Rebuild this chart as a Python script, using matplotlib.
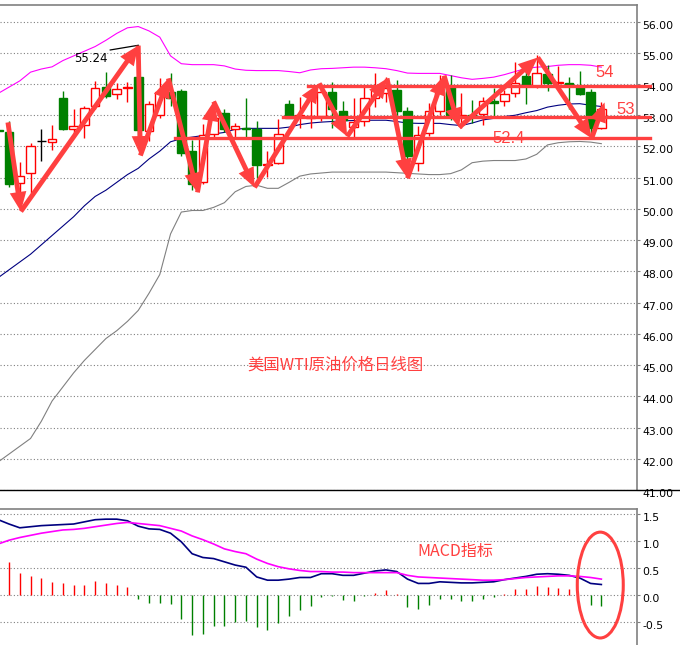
import matplotlib
matplotlib.use('Agg')
import matplotlib.pyplot as plt
from matplotlib.patches import Rectangle, FancyArrowPatch, Ellipse
from matplotlib.lines import Line2D
from matplotlib.transforms import ScaledTranslation

# daily candles, index -1 is the one cut off at the left edge
opens = [52.52, 52.46, 50.83, 51.15, 52.16, 52.15, 53.56, 52.57, 52.70, 53.31, 53.92,
         53.69, 53.87, 54.21, 52.49, 53.00, 53.75, 53.79, 51.85, 50.86, 52.40,
         53.06, 52.55, 52.60, 52.55, 51.40, 51.47, 53.35, 52.93, 52.90, 52.97,
         53.73, 53.15, 52.62, 52.81, 53.55, 53.71, 53.82, 53.15, 51.47, 52.43,
         53.15, 53.90, 52.93, 53.02, 53.05, 53.47, 53.47, 53.72, 54.27, 53.95,
         54.33, 54.03, 54.02, 53.90, 53.75, 52.60]
highs = [52.60, 52.83, 51.50, 52.11, 52.55, 52.70, 53.79, 53.20, 53.31, 54.11, 54.38,
         54.03, 54.06, 55.24, 53.45, 54.20, 54.35, 53.85, 52.20, 52.73, 53.47,
         53.20, 52.74, 53.54, 52.81, 51.87, 52.89, 53.50, 53.57, 53.74, 54.03,
         54.08, 53.47, 53.55, 53.90, 54.35, 54.22, 54.14, 53.26, 52.67, 53.40,
         54.30, 54.30, 53.70, 53.50, 53.58, 53.86, 53.82, 54.70, 54.38, 54.94,
         54.60, 54.58, 54.22, 54.43, 53.85, 53.42]
lows = [52.40, 50.70, 50.20, 50.50, 51.53, 51.90, 52.52, 52.30, 52.28, 53.20, 53.55,
        53.51, 53.42, 52.00, 52.17, 52.90, 53.30, 51.70, 50.60, 50.80, 52.30,
        52.45, 52.26, 52.26, 50.98, 51.02, 51.45, 52.90, 52.60, 52.60, 52.81,
        52.60, 52.83, 52.28, 52.67, 53.26, 53.42, 53.00, 51.10, 51.23, 52.35,
        53.00, 52.85, 52.60, 52.74, 52.70, 52.96, 53.30, 53.60, 53.37, 53.88,
        53.77, 53.95, 53.21, 53.65, 52.35, 52.55]
closes = [52.48, 50.79, 51.07, 52.03, 52.16, 52.25, 52.55, 52.66, 53.22, 53.88, 53.63,
          53.84, 53.89, 52.52, 53.35, 53.76, 53.55, 51.79, 50.81, 52.38, 52.90,
          52.55, 52.64, 52.56, 51.40, 51.45, 52.41, 52.92, 53.00, 52.96, 53.73,
          53.20, 52.86, 52.78, 53.56, 53.85, 53.88, 53.13, 51.71, 52.38, 53.15,
          53.74, 53.00, 53.00, 52.98, 53.45, 53.39, 53.69, 54.03, 53.95, 54.36,
          54.04, 54.06, 54.00, 53.69, 52.60, 53.21]

# bollinger bands
bb_upper = [53.70, 53.90, 54.10, 54.38, 54.48, 54.55, 54.75, 54.90, 55.05, 55.20, 55.40,
            55.62, 55.80, 55.84, 55.70, 55.50, 54.90, 54.65, 54.62, 54.62, 54.62,
            54.58, 54.48, 54.44, 54.43, 54.43, 54.43, 54.40, 54.36, 54.45, 54.49,
            54.50, 54.52, 54.54, 54.54, 54.52, 54.49, 54.43, 54.35, 54.34, 54.34,
            54.34, 54.27, 54.20, 54.15, 54.18, 54.22, 54.30, 54.40, 54.50, 54.54,
            54.56, 54.60, 54.62, 54.62, 54.60, 54.54]
bb_mid = [47.80, 48.05, 48.30, 48.55, 48.85, 49.15, 49.45, 49.75, 50.10, 50.40, 50.60,
          50.85, 51.10, 51.30, 51.60, 51.85, 52.15, 52.25, 52.30, 52.35, 52.40,
          52.45, 52.55, 52.58, 52.58, 52.58, 52.58, 52.62, 52.70, 52.75, 52.78,
          52.80, 52.82, 52.83, 52.84, 52.84, 52.84, 52.80, 52.75, 52.74, 52.74,
          52.74, 52.70, 52.67, 52.75, 52.85, 52.90, 52.96, 53.00, 53.08, 53.15,
          53.26, 53.32, 53.36, 53.37, 53.32, 53.28]
bb_lower = [41.90, 42.15, 42.40, 42.65, 43.20, 43.85, 44.30, 44.75, 45.15, 45.50, 45.85,
            46.10, 46.40, 46.75, 47.30, 47.90, 49.20, 49.90, 49.95, 49.95, 50.05,
            50.20, 50.55, 50.72, 50.76, 50.66, 50.66, 50.85, 51.05, 51.12, 51.15,
            51.18, 51.18, 51.18, 51.18, 51.18, 51.18, 51.16, 51.14, 51.12, 51.10,
            51.10, 51.13, 51.25, 51.48, 51.53, 51.55, 51.55, 51.55, 51.60, 51.75,
            52.05, 52.12, 52.15, 52.16, 52.14, 52.09]

# MACD panel
macd_line = [1.40, 1.32, 1.25, 1.27, 1.29, 1.30, 1.31, 1.32, 1.36, 1.40, 1.41,
             1.41, 1.38, 1.28, 1.23, 1.22, 1.15, 0.99, 0.77, 0.70, 0.68,
             0.62, 0.56, 0.52, 0.34, 0.28, 0.28, 0.30, 0.33, 0.33, 0.40,
             0.40, 0.37, 0.37, 0.41, 0.45, 0.47, 0.44, 0.30, 0.22, 0.22,
             0.25, 0.24, 0.23, 0.23, 0.24, 0.25, 0.29, 0.32, 0.35, 0.39,
             0.40, 0.39, 0.37, 0.32, 0.22, 0.20]
signal_line = [0.95, 1.02, 1.07, 1.11, 1.15, 1.18, 1.21, 1.22, 1.24, 1.27, 1.30,
               1.33, 1.35, 1.33, 1.31, 1.29, 1.24, 1.19, 1.10, 1.03, 0.95,
               0.86, 0.81, 0.77, 0.67, 0.59, 0.53, 0.49, 0.46, 0.44, 0.44,
               0.43, 0.43, 0.42, 0.42, 0.42, 0.42, 0.42, 0.37, 0.34, 0.33,
               0.32, 0.31, 0.30, 0.29, 0.28, 0.28, 0.29, 0.31, 0.33, 0.34,
               0.35, 0.36, 0.36, 0.35, 0.33, 0.30]
# histogram starts at index 0
macd_hist = [0.62, 0.41, 0.35, 0.32, 0.25, 0.23, 0.19, 0.20, 0.27, 0.23,
             0.20, 0.15, -0.07, -0.14, -0.14, -0.17, -0.44, -0.74, -0.71, -0.57,
             -0.56, -0.49, -0.48, -0.59, -0.65, -0.52, -0.39, -0.28, -0.19, -0.03,
             -0.02, -0.09, -0.10, -0.02, 0.04, 0.10, 0.02, -0.21, -0.26, -0.18,
             -0.06, -0.07, -0.10, -0.10, -0.06, -0.04, 0.02, 0.11, 0.12, 0.17,
             0.15, 0.14, 0.11, 0.01, -0.18, -0.20]

price_ticks = list(range(41, 57))
macd_ticks = [-0.5, 0.0, 0.5, 1.0, 1.5]

# hand drawn swing arrows: (candle index, price), joined one after another
pivots = [(-0.1, 52.77), (1.1, 49.92), (12.0, 55.23), (12.2, 51.71), (14.8, 54.18),
          (17.5, 50.53), (19.0, 53.44), (22.8, 50.69), (28.8, 54.02), (31.4, 52.32),
          (35.1, 54.18), (37.0, 50.98), (40.4, 54.27), (41.8, 52.61), (49.1, 54.85),
          (54.1, 52.26), (55.3, 53.41)]

# support / resistance lines: label, drawn price, start index
level_labels = ['54', '53', '52.4']
level_prices = [53.93, 52.93, 52.26]
level_starts = [27.8, 25.4, 15.4]

RED = '#ff4040'
GREEN = '#008000'
UP = '#ff0000'
GRID = '#808080'

fig = plt.figure(figsize=(6.8, 6.45), dpi=100)
ax = fig.add_axes([0, 155 / 645, 637 / 680, 485 / 645])
ax2 = fig.add_axes([0, 0, 637 / 680, 136 / 645])

idx = list(range(-1, len(opens) - 1))

# candles
for i, o, h, l, c in zip(idx, opens, highs, lows, closes):
    if abs(c - o) < 0.005:
        col, face = 'black', 'black'
    elif c > o:
        col, face = UP, 'white'
    else:
        col, face = GREEN, GREEN
    ax.vlines(i, l, h, color=col, lw=1, zorder=3)
    ax.add_patch(Rectangle((i - 0.4, min(o, c)), 0.8, max(abs(c - o), 0.01),
                           facecolor=face, edgecolor=col, lw=1, zorder=4))

ax.plot(idx, bb_upper, color='#ff00ff', lw=0.8, zorder=2)
ax.plot(idx, bb_mid, color='#000080', lw=0.8, zorder=2)
ax.plot(idx, bb_lower, color='#808080', lw=0.8, zorder=2)

# highest high marker
top_i = idx[highs.index(max(highs))]
ax.plot([top_i - 2.6, top_i], [max(highs) - 0.15, max(highs)], color='black', lw=0.9, zorder=5)
ax.text(top_i - 2.8, max(highs) - 0.41, f'{max(highs):.2f}', ha='right', va='center',
        fontsize=8.5, color='black', zorder=5)

# level lines
for lab, p, s in zip(level_labels, level_prices, level_starts):
    ax.plot([s, 59.5], [p, p], color=RED, lw=2.4, zorder=5, clip_on=False)
ax.text(55.3, 54.37, level_labels[0], color=RED, fontsize=12, family='Liberation Sans',
        ha='center', va='center', zorder=7)
ax.text(57.3, 53.18, level_labels[1], color=RED, fontsize=12, family='Liberation Sans',
        ha='center', va='center', zorder=7)
ax.text(46.4, 52.27, level_labels[2], color=RED, fontsize=12, family='Liberation Sans',
        ha='center', va='center', zorder=7)

# arrows
for a, b in zip(pivots[:-1], pivots[1:]):
    ax.add_patch(FancyArrowPatch(a, b, arrowstyle='simple,head_length=1.4,head_width=1.2,tail_width=0.35',
                                 mutation_scale=10, color=RED, lw=0, shrinkA=0, shrinkB=0, zorder=6))

ax.text(30.3, 45.0, '美国WTI原油价格日线图', color=RED, fontsize=11.8,
        family=['Noto Sans CJK SC', 'DejaVu Sans'], ha='center', va='center')

# MACD
ax2.plot(idx, macd_line, color='#000080', lw=1.2, zorder=3)
ax2.plot(idx, signal_line, color='#ff00ff', lw=1.2, zorder=3)
for i, v in enumerate(macd_hist):
    ax2.vlines(i, 0, v, color=UP if v > 0 else GREEN, lw=1.0, zorder=2)
ax2.add_patch(Ellipse((54.9, 0.19), 4.27, 1.96, fill=False, ec=RED, lw=2.2, zorder=5))
ax2.text(41.4, 0.82, 'MACD指标', color=RED, fontsize=11.5,
         family=['Noto Sans CJK SC', 'DejaVu Sans'], ha='center', va='center')

offset = ScaledTranslation(0, -0.03, fig.dpi_scale_trans)
for a_, lim, ticks, fmt in [(ax, (41.0, 56.53), price_ticks, '{:.2f}'),
                            (ax2, (-0.92, 1.598), macd_ticks, '{:.1f}')]:
    a_.set_xlim(-0.836, 58.31)
    a_.set_ylim(*lim)
    a_.set_xticks([])
    a_.set_yticks(ticks)
    a_.set_yticklabels([fmt.format(t) for t in ticks])
    a_.yaxis.tick_right()
    a_.tick_params(axis='y', length=2, color=GRID, labelsize=7.8, pad=2, labelcolor='black')
    a_.grid(axis='y', color=GRID, linestyle=(0, (1, 2)), lw=0.8)
    a_.set_axisbelow(True)
    for sp in ['left', 'bottom']:
        a_.spines[sp].set_visible(False)
    for sp in ['top', 'right']:
        a_.spines[sp].set_color(GRID)
        a_.spines[sp].set_linewidth(1.2)
    for lbl in a_.get_yticklabels():
        lbl.set_transform(lbl.get_transform() + offset)

fig.add_artist(Line2D([0, 1], [155 / 645, 155 / 645], color='black', lw=1))

fig.savefig('out.png', dpi=100)
